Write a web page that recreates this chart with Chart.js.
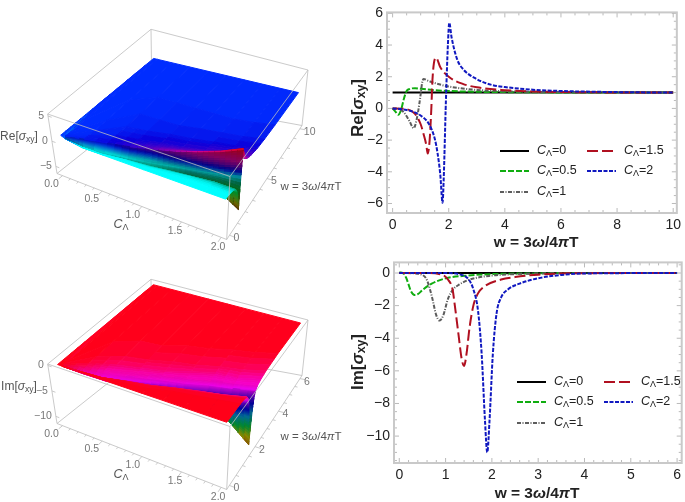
<!DOCTYPE html>
<html>
<head>
<meta charset="utf-8">
<script src="https://cdn.jsdelivr.net/npm/chart.js@4/dist/chart.umd.min.js"></script>
<style>
  html, body { margin: 0; padding: 0; background: #fff; }
  body { position: relative; width: 685px; height: 502px; overflow: hidden; }
  canvas { position: absolute; filter: blur(0.5px); }
</style>
</head>
<body>
<canvas id="surface-re" width="345" height="250" style="left:0;top:0"></canvas>
<canvas id="surface-im" width="345" height="252" style="left:0;top:250px"></canvas>
<canvas id="line-re" width="340" height="250" style="left:345px;top:0"></canvas>
<canvas id="line-im" width="340" height="252" style="left:345px;top:250px"></canvas>
<script>
// --- LINE PLOT DATA ---
const legendNames = ['=0', '=0.5', '=1', '=1.5', '=2'];

const reW0 = [0, 10];
const reY0 = [1, 1];
const reW05 = [0, 0.1, 0.2, 0.3, 0.4, 0.5, 0.6, 0.8, 1, 1.5, 2, 3, 4, 6, 10];
const reY05 = [0, -0.2, -0.4, -0.1, 0.6, 1.1, 1.22, 1.28, 1.24, 1.15, 1.1, 1.05, 1.03, 1.01, 1];
const reW1 = [0, 0.2, 0.4, 0.6, 0.7, 0.75, 0.8, 0.9, 1, 1.05, 1.1, 1.3, 1.5, 2, 3, 4, 6, 10];
const reY1 = [0, -0.03, -0.25, -0.8, -1.15, -1.25, -1.1, -0.3, 0.9, 1.6, 1.85, 1.72, 1.6, 1.38, 1.17, 1.08, 1.03, 1];
const reW15 = [0, 0.5, 0.8, 1, 1.1, 1.2, 1.25, 1.32, 1.38, 1.42, 1.5, 1.55, 1.7, 2, 2.5, 3, 4, 5, 7, 10];
const reY15 = [0, -0.05, -0.35, -1, -1.6, -2.3, -2.85, -2, 0, 1.8, 3.1, 3.2, 2.6, 2, 1.55, 1.33, 1.15, 1.07, 1.02, 1];
const reW2 = [0, 0.5, 1, 1.3, 1.5, 1.6, 1.7, 1.78, 1.82, 1.9, 1.97, 2.02, 2.1, 2.3, 2.5, 3, 3.5, 4, 5, 6, 8, 10];
const reY2 = [0, -0.1, -0.45, -1, -1.9, -2.8, -4.2, -5.95, -4.5, 0.5, 4, 5.4, 4.5, 3.1, 2.5, 1.85, 1.5, 1.35, 1.18, 1.1, 1.03, 1];

const imW0 = [0, 6];
const imY0 = [0, 0];
const imW05 = [0, 0.1, 0.15, 0.2, 0.25, 0.33, 0.4, 0.5, 0.7, 1, 1.5, 2, 3, 4, 6];
const imY05 = [0.05, -0.05, -0.3, -0.7, -1.1, -1.35, -1.3, -1.05, -0.65, -0.33, -0.15, -0.07, -0.02, 0, 0];
const imW1 = [0, 0.3, 0.5, 0.6, 0.7, 0.8, 0.87, 0.95, 1.05, 1.15, 1.3, 1.5, 2, 2.5, 3, 4, 6];
const imY1 = [0, -0.02, -0.12, -0.45, -1.4, -2.6, -2.92, -2.6, -1.6, -1.05, -0.7, -0.42, -0.16, -0.07, -0.03, 0, 0];
const imW15 = [0, 0.5, 0.9, 1.05, 1.15, 1.2, 1.28, 1.35, 1.4, 1.45, 1.52, 1.6, 1.7, 1.85, 2.2, 2.5, 3, 4, 6];
const imY15 = [0, 0, -0.08, -0.4, -1, -2, -3.8, -5.3, -5.7, -5, -3.3, -2, -1.25, -0.8, -0.4, -0.25, -0.1, -0.01, 0];
const imW2 = [0, 1, 1.3, 1.5, 1.6, 1.7, 1.78, 1.85, 1.9, 1.95, 2.02, 2.1, 2.2, 2.35, 2.6, 3, 3.5, 4, 6];
const imY2 = [0, 0, -0.08, -0.4, -1, -2.3, -5, -9, -11, -9, -5, -2.5, -1.5, -1, -0.65, -0.32, -0.12, -0.03, 0];

// --- SURFACE DATA: one row per C value, knots follow the dip and the peak ---
// the surfaces were sampled coarsely in the original, narrow dips come out shallower than the curves
const cRows = [0, 0.05, 0.25, 0.5, 0.75, 1, 1.25, 1.5, 1.75, 2];

const surfReW = [
  [0, 0.5, 1, 1.5, 2, 2.5, 3, 3.5, 4, 4.5, 5, 6, 7, 8, 9, 10],
  [0, 0.006, 0.01, 0.014, 0.017, 0.02, 0.024, 0.034, 0.06, 0.08, 0.1, 0.15, 0.3, 0.6, 2, 10],
  [0, 0.03, 0.05, 0.07, 0.085, 0.1, 0.12, 0.17, 0.3, 0.4, 0.5, 0.75, 1.3, 2.5, 5, 10],
  [0, 0.05, 0.1, 0.14, 0.17, 0.2, 0.24, 0.34, 0.6, 0.8, 1, 1.5, 2.5, 4, 6, 10],
  [0, 0.15, 0.3, 0.38, 0.42, 0.45, 0.48, 0.58, 0.78, 1, 1.3, 1.7, 2.7, 4, 6, 10],
  [0, 0.2, 0.4, 0.55, 0.62, 0.68, 0.75, 0.9, 1.1, 1.3, 1.6, 2, 3, 4, 6, 10],
  [0, 0.3, 0.6, 0.8, 0.88, 0.95, 1.02, 1.15, 1.3, 1.5, 1.8, 2.2, 3.2, 4.3, 6, 10],
  [0, 0.4, 0.8, 1, 1.1, 1.2, 1.27, 1.38, 1.52, 1.75, 2, 2.5, 3.5, 4.5, 6, 10],
  [0, 0.45, 0.9, 1.15, 1.3, 1.42, 1.53, 1.64, 1.76, 2, 2.3, 2.75, 3.7, 4.7, 6.2, 10],
  [0, 0.5, 1, 1.3, 1.5, 1.7, 1.8, 1.9, 2, 2.3, 2.6, 3, 4, 5, 6.5, 10]
];
const surfReZ = [
  [1, 1, 1, 1, 1, 1, 1, 1, 1, 1, 1, 1, 1, 1, 1, 1],
  [0.6, 0.6, 0.6, 0.6, 0.6, 0.6, 0.6, 0.8, 1, 1.02, 1.02, 1.01, 1, 1, 1, 1],
  [0, -0.03, -0.07, -0.12, -0.15, -0.18, -0.2, 0.3, 1.12, 1.14, 1.12, 1.07, 1.03, 1.01, 1, 1],
  [0, -0.05, -0.12, -0.2, -0.25, -0.3, -0.35, 0.1, 1.22, 1.28, 1.24, 1.15, 1.07, 1.02, 1.01, 1],
  [0, -0.03, -0.15, -0.3, -0.42, -0.5, -0.6, -0.1, 1.55, 1.5, 1.4, 1.28, 1.12, 1.05, 1.02, 1],
  [0, -0.03, -0.2, -0.4, -0.55, -0.7, -0.9, -0.3, 1.85, 1.72, 1.55, 1.38, 1.17, 1.08, 1.03, 1],
  [0, -0.03, -0.2, -0.5, -0.75, -1, -1.3, -0.1, 2.4, 2.1, 1.75, 1.45, 1.18, 1.09, 1.03, 1],
  [0, -0.03, -0.25, -0.6, -0.95, -1.4, -1.9, 0, 3.2, 2.4, 2, 1.55, 1.2, 1.1, 1.03, 1],
  [0, -0.05, -0.3, -0.6, -1.1, -1.9, -2.8, 0.2, 4.1, 2.7, 2, 1.65, 1.28, 1.13, 1.05, 1],
  [0, -0.1, -0.45, -1, -1.9, -4.2, -5.9, 0.5, 5.4, 3.1, 2.3, 1.85, 1.35, 1.18, 1.06, 1]
];

const surfImW = [
  [0, 0.4, 0.8, 1.2, 1.6, 2, 2.4, 2.8, 3.2, 3.6, 4, 4.4, 4.8, 5.2, 5.6, 6],
  [0, 0.004, 0.008, 0.012, 0.016, 0.02, 0.024, 0.03, 0.04, 0.052, 0.066, 0.08, 0.12, 0.2, 0.4, 6],
  [0, 0.02, 0.04, 0.06, 0.08, 0.1, 0.12, 0.15, 0.2, 0.26, 0.33, 0.4, 0.6, 1, 2, 6],
  [0, 0.05, 0.1, 0.13, 0.15, 0.2, 0.25, 0.33, 0.4, 0.5, 0.6, 0.7, 1, 1.5, 2.5, 6],
  [0, 0.2, 0.3, 0.36, 0.42, 0.48, 0.55, 0.6, 0.67, 0.75, 0.85, 1, 1.25, 1.7, 2.6, 6],
  [0, 0.3, 0.45, 0.55, 0.62, 0.7, 0.8, 0.87, 0.95, 1.05, 1.15, 1.3, 1.5, 2, 3, 6],
  [0, 0.55, 0.72, 0.82, 0.9, 0.97, 1.05, 1.13, 1.22, 1.3, 1.4, 1.55, 1.85, 2.2, 3.2, 6],
  [0, 0.7, 0.9, 1.05, 1.15, 1.2, 1.28, 1.4, 1.52, 1.6, 1.7, 1.85, 2.2, 2.5, 3.5, 6],
  [0, 0.85, 1.1, 1.25, 1.35, 1.45, 1.53, 1.65, 1.75, 1.83, 1.93, 2.08, 2.3, 2.7, 3.7, 6],
  [0, 1, 1.3, 1.5, 1.6, 1.7, 1.78, 1.9, 2.02, 2.1, 2.2, 2.35, 2.6, 3, 4, 6]
];
const surfImZ = [
  [0, 0, 0, 0, 0, 0, 0, 0, 0, 0, 0, 0, 0, 0, 0, 0],
  [0, 0, -0.01, -0.03, -0.05, -0.08, -0.12, -0.15, -0.13, -0.1, -0.08, -0.06, -0.03, -0.01, 0, 0],
  [0, 0, -0.03, -0.1, -0.2, -0.4, -0.6, -0.7, -0.62, -0.5, -0.38, -0.28, -0.15, -0.07, -0.01, 0],
  [0, 0, -0.05, -0.15, -0.3, -0.7, -1.1, -1.35, -1.3, -1.05, -0.8, -0.65, -0.33, -0.15, -0.03, 0],
  [0, -0.02, -0.08, -0.2, -0.5, -1.1, -1.7, -2, -1.85, -1.3, -0.9, -0.6, -0.35, -0.15, -0.03, 0],
  [0, -0.02, -0.08, -0.25, -0.6, -1.3, -2.3, -2.7, -2.5, -1.6, -1.05, -0.7, -0.42, -0.16, -0.03, 0],
  [0, 0, -0.08, -0.3, -0.8, -1.5, -2.6, -3.5, -2.7, -1.9, -1.2, -0.75, -0.4, -0.2, -0.02, 0],
  [0, 0, -0.08, -0.35, -0.9, -1.8, -3.2, -4.5, -3.2, -2, -1.25, -0.8, -0.4, -0.25, -0.03, 0],
  [0, 0, -0.08, -0.4, -0.9, -1.9, -3.8, -6.5, -4, -2.2, -1.4, -0.9, -0.6, -0.3, -0.03, 0],
  [0, 0, -0.08, -0.4, -1, -2.3, -5, -11, -5, -2.5, -1.5, -1, -0.65, -0.32, -0.03, 0]
];

// --- STYLES ---
const FONT = '"Liberation Sans", Arial, sans-serif';
const LINE_STYLES = [
  { color: '#000000', dash: [] },
  { color: '#10ad10', dash: [6, 2] },
  { color: '#5c5c5c', dash: [4, 1.5, 1, 1.5] },
  { color: '#b01020', dash: [11, 4] },
  { color: '#1018c0', dash: [4, 1.5] }
];

// z value -> colour, like the hue ramp of the surfaces
const RE_STOPS = [[-6.4, 140, 30, 0], [-4.5, 130, 130, 0], [-2, 0, 170, 50], [-1, 0, 170, 110], [-0.45, 0, 195, 175], [-0.12, 0, 255, 255], [0, 0, 255, 255],
  [0.6, 0, 130, 255], [1, 0, 45, 255], [1.3, 10, 0, 220], [2, 120, 0, 190], [3, 220, 0, 160], [5.5, 255, 0, 30]];
const IM_STOPS = [[-11.4, 170, 70, 0], [-9, 170, 170, 0], [-7, 0, 170, 60], [-5, 0, 130, 190], [-3.5, 0, 0, 200],
  [-2.2, 120, 0, 220], [-1.3, 255, 0, 255], [-0.6, 255, 0, 170], [0, 255, 0, 25]];

// corners of the drawn box, canvas pixels of a left panel
const BOX_TOP = { a: [47.7, 114], b: [230, 176.5], d: [308, 70], e: [151, 29.3] };
const BOX_BOTTOM = { a: [57, 173.5], b: [226.7, 239.5], d: [302, 125.5], e: [152, 98] };
const CAMERA = [1.3, -1.2, 2.5];
const W_PERSPECTIVE = 0.15;

// --- HELPERS ---
function projector(box) {
  return (c, w, z) => {
    const u = (c - box.cMin) / (box.cMax - box.cMin);
    const raw = (w - box.wMin) / (box.wMax - box.wMin);
    const v = raw * (1 + W_PERSPECTIVE) / (1 + W_PERSPECTIVE * raw);
    const t = (z - box.zMin) / (box.zMax - box.zMin);
    const corner = (k) => {
      const plane = (p) => (1 - v) * ((1 - u) * p.a[k] + u * p.b[k]) + v * ((1 - u) * p.e[k] + u * p.d[k]);
      return (1 - t) * plane(BOX_BOTTOM) + t * plane(BOX_TOP);
    };
    return { x: corner(0), y: corner(1) };
  };
}

function colorFor(stops, z, shade) {
  let i = 0;
  while (i < stops.length - 2 && z > stops[i + 1][0]) i++;
  const a = stops[i], b = stops[i + 1];
  const f = Math.min(1, Math.max(0, (z - a[0]) / (b[0] - a[0])));
  const mix = (k) => Math.round((a[k] + (b[k] - a[k]) * f) * shade);
  return `rgb(${mix(1)},${mix(2)},${mix(3)})`;
}

function lerp(a, b, f) { return a + (b - a) * f; }

// turns the table into small filled quads, far ones first
function surfaceDatasets(box, rowsW, rowsZ, stops, wallDark) {
  const project = projector(box);
  const quads = [];
  for (let r = 0; r < cRows.length - 1; r++) {
    for (let k = 0; k < rowsW[r].length - 1; k++) {
      const zs = [rowsZ[r][k], rowsZ[r][k + 1], rowsZ[r + 1][k], rowsZ[r + 1][k + 1]];
      const nw = Math.min(10, Math.ceil(Math.max(Math.abs(zs[1] - zs[0]), Math.abs(zs[3] - zs[2])) / 0.12) || 1);
      const nc = Math.min(4, Math.ceil(Math.max(Math.abs(zs[2] - zs[0]), Math.abs(zs[3] - zs[1])) / 0.12) || 1);
      const at = (fc, fw) => {
        const wA = lerp(rowsW[r][k], rowsW[r][k + 1], fw), wB = lerp(rowsW[r + 1][k], rowsW[r + 1][k + 1], fw);
        const zA = lerp(zs[0], zs[1], fw), zB = lerp(zs[2], zs[3], fw);
        return { c: lerp(cRows[r], cRows[r + 1], fc), w: lerp(wA, wB, fc), z: lerp(zA, zB, fc) };
      };
      for (let i = 0; i < nc; i++) {
        for (let j = 0; j < nw; j++) {
          const p = [at(i / nc, j / nw), at(i / nc, (j + 1) / nw), at((i + 1) / nc, (j + 1) / nw), at((i + 1) / nc, j / nw)];
          const mid = {
            c: p.reduce((s, q) => s + q.c, 0) / 4, w: p.reduce((s, q) => s + q.w, 0) / 4, z: p.reduce((s, q) => s + q.z, 0) / 4
          };
          const dw = ((p[1].w - p[0].w) + (p[2].w - p[3].w)) / 2 / (box.wMax - box.wMin);
          const dz = ((p[1].z - p[0].z) + (p[2].z - p[3].z)) / 2 / (box.zMax - box.zMin);
          const slope = dw > 0 ? dz / dw : 0;
          const shade = slope > 0 ? Math.max(wallDark, 1 / (1 + 0.05 * slope)) : Math.max(0.8, 1 / (1 - 0.02 * slope));
          const u = (mid.c - box.cMin) / (box.cMax - box.cMin), v = (mid.w - box.wMin) / (box.wMax - box.wMin),
            t = (mid.z - box.zMin) / (box.zMax - box.zMin);
          const depth = Math.hypot(u - CAMERA[0], v - CAMERA[1], t - CAMERA[2]);
          quads.push({ pts: p.map(q => project(q.c, q.w, q.z)), color: colorFor(stops, mid.z, shade), depth });
        }
      }
    }
  }
  quads.sort((a, b) => b.depth - a.depth);
  return quads.map(q => ({
    data: q.pts.concat([q.pts[0]]),
    borderColor: q.color,
    backgroundColor: q.color,
    borderWidth: 1,
    fill: 'shape',
    tension: 0,
    pointRadius: 0
  }));
}

function edge(p, q, width) {
  return { data: [p, q], borderColor: '#bdbdbd', borderWidth: width || 0.8, fill: false, pointRadius: 0, tension: 0 };
}

function boxDatasets(box, cTicks, wTicks, zTicks) {
  const P = projector(box);
  const { cMin: c0, cMax: c1, wMin: w0, wMax: w1, zMin: z0, zMax: z1 } = box;
  const back = [
    edge(P(c0, w1, z0), P(c1, w1, z0)), edge(P(c0, w0, z0), P(c0, w1, z0)), edge(P(c0, w1, z0), P(c0, w1, z1))
  ];
  const front = [
    edge(P(c0, w0, z1), P(c1, w0, z1)), edge(P(c1, w0, z1), P(c1, w1, z1)), edge(P(c1, w1, z1), P(c0, w1, z1)),
    edge(P(c0, w1, z1), P(c0, w0, z1)), edge(P(c0, w0, z0), P(c1, w0, z0)), edge(P(c1, w0, z0), P(c1, w1, z0)),
    edge(P(c0, w0, z0), P(c0, w0, z1)), edge(P(c1, w0, z0), P(c1, w0, z1)), edge(P(c1, w1, z0), P(c1, w1, z1))
  ];
  const wSpan = w1 - w0, cSpan = c1 - c0;
  const ticks = [];
  cTicks.major.forEach(c => ticks.push(edge(P(c, w0, z0), P(c, w0 - 0.035 * wSpan, z0))));
  cTicks.minor.forEach(c => ticks.push(edge(P(c, w0, z0), P(c, w0 - 0.018 * wSpan, z0))));
  wTicks.major.forEach(w => ticks.push(edge(P(c1, w, z0), P(c1 + 0.035 * cSpan, w, z0))));
  wTicks.minor.forEach(w => ticks.push(edge(P(c1, w, z0), P(c1 + 0.018 * cSpan, w, z0))));
  zTicks.forEach(z => ticks.push(edge(P(c0, w0, z), P(c0 + 0.02 * cSpan, w0, z))));
  return { back, front: front.concat(ticks) };
}

// draws mixed italic / subscript text, parts are [text, style]
function drawRich(ctx, parts, x, y, size, weight, color, rotate) {
  const fontOf = (p) => {
    const small = p[1] && p[1].includes('s');
    const italic = p[1] && p[1].includes('i');
    return `${italic ? 'italic ' : ''}${weight} ${small ? size * 0.72 : size}px ${FONT}`;
  };
  ctx.save();
  ctx.translate(x, y);
  if (rotate) ctx.rotate(rotate);
  ctx.fillStyle = color;
  ctx.textBaseline = 'middle';
  ctx.textAlign = 'left';
  let total = 0;
  parts.forEach(p => { ctx.font = fontOf(p); total += ctx.measureText(p[0]).width; });
  let pos = -total / 2;
  parts.forEach(p => {
    ctx.font = fontOf(p);
    ctx.fillText(p[0], pos, p[1] && p[1].includes('s') ? size * 0.24 : 0);
    pos += ctx.measureText(p[0]).width;
  });
  ctx.restore();
}

const sigmaLabel = (head) => [[head + '['], ['σ', 'i'], ['xy', 's'], [']']];
const wLabel = [['w = 3'], ['ω', 'i'], ['/4'], ['π', 'i'], ['T']];
const cLambda = [['C', 'i'], ['Λ', 's']];

// --- LEFT PANELS ---
function makeSurface(id, height, box, rowsW, rowsZ, stops, wallDark, cfg) {
  const P = projector(box);
  const frame = boxDatasets(box, cfg.cTicks, cfg.wTicks, cfg.zTicks);
  const painted = frame.back.concat(surfaceDatasets(box, rowsW, rowsZ, stops, wallDark), frame.front);
  const labels = {
    id: 'surfaceLabels',
    afterDraw(chart) {
      const ctx = chart.ctx;
      ctx.save();
      ctx.font = `10.5px ${FONT}`;
      ctx.fillStyle = '#777';
      ctx.textBaseline = 'middle';
      ctx.textAlign = 'center';
      cfg.cTicks.major.forEach(c => {
        const p = P(c, box.wMin, box.zMin);
        ctx.fillText(c.toFixed(1), p.x - 11 + c * c * 2, p.y + 8 + c);
      });
      ctx.textAlign = 'left';
      cfg.wTicks.major.forEach(w => {
        const p = P(box.cMax, w, box.zMin);
        ctx.fillText(String(w), p.x + 4, p.y + 3);
      });
      ctx.textAlign = 'right';
      cfg.zTicks.forEach(z => {
        const p = P(box.cMin, box.wMin, z);
        ctx.fillText(String(z).replace('-', '−'), p.x - 4, p.y);
      });
      ctx.restore();
      drawRich(ctx, sigmaLabel(cfg.zName), 19, cfg.zNameY, 12, 'normal', '#555');
      drawRich(ctx, wLabel, 311, 187, 11.5, 'normal', '#555');
      drawRich(ctx, cLambda, 121, 225, 12.5, 'normal', '#555');
    }
  };
  return new Chart(document.getElementById(id), {
    type: 'line',
    // first dataset is painted last, so the list is flipped
    data: { datasets: painted.reverse() },
    options: {
      responsive: false,
      animation: false,
      parsing: false,
      normalized: false,
      events: [],
      layout: { padding: 0 },
      plugins: { legend: { display: false }, tooltip: { enabled: false } },
      scales: {
        x: { type: 'linear', min: 0, max: 345, display: false },
        y: { type: 'linear', min: 0, max: height, reverse: true, display: false }
      }
    },
    plugins: [labels]
  });
}

makeSurface('surface-re', 250,
  { cMin: -0.07, cMax: 2.07, wMin: -0.35, wMax: 10.35, zMin: -6.4, zMax: 5.4 },
  surfReW, surfReZ, RE_STOPS, 0.6, {
    cTicks: { major: [0, 0.5, 1, 1.5, 2], minor: [0.1, 0.2, 0.3, 0.4, 0.6, 0.7, 0.8, 0.9, 1.1, 1.2, 1.3, 1.4, 1.6, 1.7, 1.8, 1.9] },
    wTicks: { major: [0, 5, 10], minor: [1, 2, 3, 4, 6, 7, 8, 9] },
    zTicks: [5, 0, -5],
    zName: 'Re',
    zNameY: 137
  });

makeSurface('surface-im', 252,
  { cMin: -0.07, cMax: 2.07, wMin: -0.2, wMax: 6.2, zMin: -11.4, zMax: 0.3 },
  surfImW, surfImZ, IM_STOPS, 0.75, {
    cTicks: { major: [0, 0.5, 1, 1.5, 2], minor: [0.1, 0.2, 0.3, 0.4, 0.6, 0.7, 0.8, 0.9, 1.1, 1.2, 1.3, 1.4, 1.6, 1.7, 1.8, 1.9] },
    wTicks: { major: [0, 2, 4, 6], minor: [0.5, 1, 1.5, 2.5, 3, 3.5, 4.5, 5, 5.5] },
    zTicks: [0, -5, -10],
    zName: 'Im',
    zNameY: 137
  });

// --- RIGHT PANELS ---
function seq(from, to, step) {
  const out = [];
  for (let v = from; v <= to + 1e-9; v += step) out.push(+v.toFixed(3));
  return out;
}

function makeLines(id, series, cfg) {
  const datasets = series.map(([xs, ys], i) => ({
    label: legendNames[i],
    data: xs.map((x, k) => ({ x, y: ys[k] })),
    borderColor: LINE_STYLES[i].color,
    borderDash: LINE_STYLES[i].dash,
    borderWidth: 2,
    pointRadius: 0,
    cubicInterpolationMode: 'monotone',
    fill: false,
    order: series.length - i // later curves lie on top, black at the bottom
  }));
  const decor = {
    id: 'frameAndLegend',
    afterDatasetsDraw(chart) {
      const { ctx, chartArea: a, scales: { x, y } } = chart;
      ctx.save();
      ctx.strokeStyle = '#a8a8a8';
      ctx.lineWidth = 0.8;
      const mark = (x1, y1, x2, y2) => { ctx.beginPath(); ctx.moveTo(x1, y1); ctx.lineTo(x2, y2); ctx.stroke(); };
      seq(cfg.xMinorFrom, cfg.xTickMax, cfg.xMinor).forEach(v => {
        const px = x.getPixelForValue(v);
        const len = Math.abs(v / cfg.xMajor - Math.round(v / cfg.xMajor)) < 1e-6 ? 5 : 3;
        mark(px, a.bottom, px, a.bottom - len);
        mark(px, a.top, px, a.top + len);
      });
      seq(cfg.yTickMin, cfg.yTickMax, cfg.yMinor).forEach(v => {
        const py = y.getPixelForValue(v);
        const len = Math.abs(v / 2 - Math.round(v / 2)) < 1e-6 ? 5 : 3;
        mark(a.left, py, a.left + len, py);
        mark(a.right, py, a.right - len, py);
      });
      ctx.strokeStyle = '#c9c9c9';
      ctx.lineWidth = 2;
      ctx.strokeRect(a.left, a.top, a.right - a.left, a.bottom - a.top);
      ctx.restore();

      // legend in two columns, taken from the datasets
      cfg.legend.forEach((slot, i) => {
        const ds = chart.data.datasets[i];
        ctx.save();
        ctx.strokeStyle = ds.borderColor;
        ctx.lineWidth = 2;
        ctx.setLineDash(ds.borderDash);
        ctx.beginPath();
        ctx.moveTo(slot[0], slot[1]);
        ctx.lineTo(slot[0] + 29, slot[1]);
        ctx.stroke();
        ctx.restore();
        const parts = cLambda.concat([[ds.label]]);
        let w = 0;
        ctx.save();
        parts.forEach(p => {
          ctx.font = `${p[1] && p[1].includes('i') ? 'italic ' : ''}${p[1] && p[1].includes('s') ? 9 : 12.5}px ${FONT}`;
          w += ctx.measureText(p[0]).width;
        });
        ctx.restore();
        drawRich(ctx, parts, slot[0] + 37 + w / 2, slot[1], 12.5, 'normal', '#222');
      });

      drawRich(ctx, sigmaLabel(cfg.yName), 13, cfg.yNameY, 17, 'bold', '#222', -Math.PI / 2);
      drawRich(ctx, wLabel, cfg.xNameX, cfg.xNameY, 15.5, 'bold', '#222');
    }
  };
  return new Chart(document.getElementById(id), {
    type: 'line',
    data: { datasets },
    options: {
      responsive: false,
      animation: false,
      events: [],
      layout: { padding: { top: cfg.padTop, right: cfg.padRight, left: 0, bottom: 0 } },
      plugins: { legend: { display: false }, tooltip: { enabled: false } },
      scales: {
        x: {
          type: 'linear', min: cfg.xMin, max: cfg.xMax, afterFit: s => { s.height = cfg.bottomSpace; },
          afterBuildTicks: s => { s.ticks = seq(0, cfg.xTickMax, cfg.xMajor).map(value => ({ value })); },
          grid: { display: false, drawTicks: false }, border: { display: false },
          ticks: { font: { family: FONT, size: 14 }, color: '#222', padding: 4, maxRotation: 0 }
        },
        y: {
          type: 'linear', min: cfg.yMin, max: cfg.yMax, afterFit: s => { s.width = cfg.leftSpace; },
          afterBuildTicks: s => { s.ticks = cfg.yLabels.map(value => ({ value })); },
          grid: { display: false, drawTicks: false }, border: { display: false },
          ticks: {
            font: { family: FONT, size: 14 }, color: '#222', padding: 4,
            callback: v => String(v).replace('-', '−')
          }
        }
      }
    },
    plugins: [decor]
  });
}

makeLines('line-re', [[reW0, reY0], [reW05, reY05], [reW1, reY1], [reW15, reY15], [reW2, reY2]], {
  xMin: -0.2, xMax: 10.13, yMin: -6.6, yMax: 6.06, padTop: 5, padRight: 2, bottomSpace: 37, leftSpace: 42,
  xTickMax: 10, xMajor: 2, xMinor: 0.5, xMinorFrom: 0, yTickMin: -6, yTickMax: 6, yMinor: 0.5,
  yLabels: [-6, -4, -2, 0, 2, 4, 6], yName: 'Re', yNameY: 108, xNameX: 191, xNameY: 243,
  legend: [[155, 151], [155, 171], [155, 192], [242, 151], [242, 171]]
});

makeLines('line-im', [[imW0, imY0], [imW05, imY05], [imW1, imY1], [imW15, imY15], [imW2, imY2]], {
  xMin: -0.114, xMax: 6.1, yMin: -11.65, yMax: 0.65, padTop: 10, padRight: 1, bottomSpace: 39, leftSpace: 49,
  xTickMax: 6, xMajor: 1, xMinor: 0.2, xMinorFrom: 0, yTickMin: -11.5, yTickMax: 0.5, yMinor: 0.5,
  yLabels: [-10, -8, -6, -4, -2, 0], yName: 'Im', yNameY: 112, xNameX: 192, xNameY: 244,
  legend: [[172, 132], [172, 152], [172, 173], [259, 132], [259, 152]]
});
</script>
</body>
</html>
